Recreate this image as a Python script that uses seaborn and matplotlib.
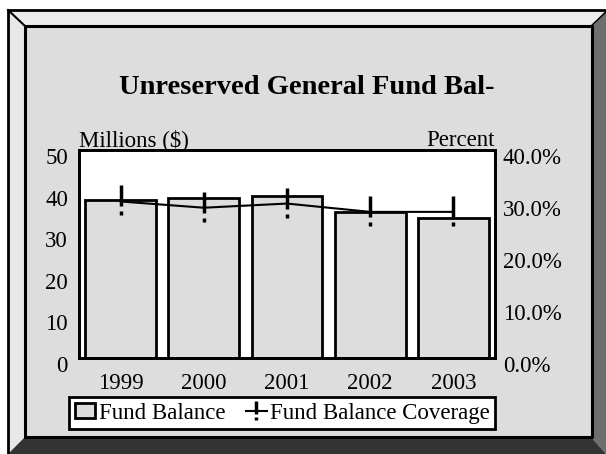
import numpy as np
import matplotlib
matplotlib.use("Agg")
import matplotlib.pyplot as plt
import seaborn as sns
from matplotlib.patches import Polygon, Patch
from matplotlib.lines import Line2D
from matplotlib.path import Path
import matplotlib.transforms as mtransforms

# ---- data ----
years = ["1999", "2000", "2001", "2002", "2003"]
fund_balance = [38.0, 38.5, 39.0, 35.1, 33.7]        # Millions ($)
coverage_pct = [30.1, 28.9, 29.7, 28.1, 28.1]         # Percent
left_ticks = [0, 10, 20, 30, 40, 50]
right_ticks = [0, 10, 20, 30, 40]
title = "Unreserved General Fund Bal-"
series_names = ["Fund Balance", "Fund Balance Coverage"]

W, H = 606, 454
plt.rcParams['font.family'] = ['Liberation Serif', 'DejaVu Serif']
fig = plt.figure(figsize=(W / 100, H / 100), dpi=100, facecolor='white')


def px(pts):
    return [(x / W, 1 - y / H) for x, y in pts]


def poly(pts, fc):
    fig.add_artist(Polygon(px(pts), closed=True, facecolor=fc, edgecolor='none',
                           transform=fig.transFigure, zorder=-5))


def line(pts, lw=2.0, color='black'):
    xy = px(pts)
    fig.add_artist(Line2D([p[0] for p in xy], [p[1] for p in xy], color=color, lw=lw,
                          transform=fig.transFigure, zorder=-4, solid_capstyle='projecting'))


# ---- beveled frame ----
poly([(8, 10), (606, 10), (591, 26), (25, 26)], '#ececec')
poly([(8, 10), (25, 26), (25, 437), (8, 454)], '#e8e8e8')
poly([(606, 10), (606, 454), (591, 437), (591, 26)], '#6e6e6e')
poly([(8, 454), (606, 454), (591, 437), (25, 437)], '#333333')
poly([(25, 26), (591, 26), (591, 437), (25, 437)], '#dddddd')
line([(8, 454), (8, 10), (606, 10)], lw=2.0)
line([(8, 10), (25, 26)], lw=1.5)
line([(606, 12), (591, 26)], lw=1.0)
line([(25, 26), (592, 26), (592, 437), (25, 437), (25, 26)], lw=2.2)

# ---- axes ----
ax = fig.add_axes([79 / W, 1 - 358 / H, (495 - 79) / W, (358 - 150) / H])
ax.set_facecolor('white')
sns.barplot(x=years, y=fund_balance, ax=ax, color='#dddddd', saturation=1,
            edgecolor='black', linewidth=2, width=0.85)
ax.set_ylim(0, 50)
ax.set_yticks(left_ticks)
ax.set_yticklabels([str(t) for t in left_ticks])
ax.set_xlim(-0.5, len(years) - 0.5)
ax.set_xlabel('')
ax.set_ylabel('')

# marker: vertical stroke with a gap and a short dash below
mk = Path([(0, 16), (0, -5.3), (0, -10), (0, -14.3)],
          [Path.MOVETO, Path.LINETO, Path.MOVETO, Path.LINETO])

ax2 = ax.twinx()
sns.lineplot(x=np.arange(len(years)), y=coverage_pct, ax=ax2, color='black', lw=1.5,
             marker=mk, ms=23, mew=2.5, mec='black', mfc='none')
ax2.set_ylim(0, 40)
ax2.set_yticks(right_ticks)
ax2.set_yticklabels([f"{t:.1f}%" for t in right_ticks])
ax2.set_ylabel('')

for a in (ax, ax2):
    for s in a.spines.values():
        s.set_visible(True)
        s.set_color('black')
        s.set_linewidth(2)

ax.tick_params(axis='x', length=0, labelsize=16.5, pad=11)
ax.tick_params(axis='y', length=0, labelsize=16.5, pad=8)
ax2.tick_params(axis='y', length=0, labelsize=16.5, pad=5.5)

off = mtransforms.ScaledTranslation(0, -6 / 100, fig.dpi_scale_trans)
for t in ax.yaxis.get_major_ticks():
    t.label1.set_transform(t.label1.get_transform() + off)
for t in ax2.yaxis.get_major_ticks():
    t.label2.set_transform(t.label2.get_transform() + off)

up = mtransforms.ScaledTranslation(0, 4 / 100, fig.dpi_scale_trans)
ax.text(0, 1, "Millions ($)", transform=ax.transAxes + up, ha='left', va='baseline', fontsize=16.5)
ax.text(1, 1, "Percent", transform=ax.transAxes + up, ha='right', va='baseline', fontsize=16.5)

fig.text(307 / W, 1 - 94 / H, title, ha='center', va='baseline', fontsize=20.5, fontweight='bold')

# ---- legend ----
handles = [
    Patch(facecolor='#dddddd', edgecolor='black', lw=2, label=series_names[0]),
    Line2D([], [], color='black', lw=1.5, marker=mk, ms=23, mew=2.5, mec='black',
           mfc='none', label=series_names[1]),
]
leg = fig.legend(handles=handles, loc='upper left', bbox_to_anchor=(69 / W, 1 - 397 / H),
                 ncol=2, frameon=True, fancybox=False, edgecolor='black', framealpha=1,
                 facecolor='white', fontsize=16.5, handlelength=0.9, handleheight=0.6,
                 handletextpad=0.15, columnspacing=0.9, borderpad=0.25, borderaxespad=0,
                 markerscale=0.65)
leg.get_frame().set_linewidth(2)

fig.savefig("out.png", dpi=100)
